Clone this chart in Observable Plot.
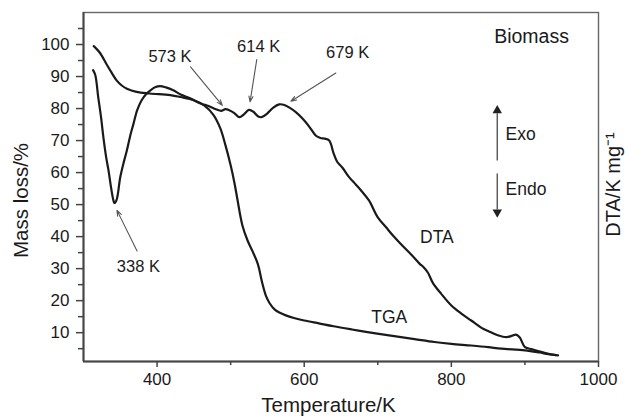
<!DOCTYPE html>
<html>
<head>
<meta charset="utf-8">
<script src="https://cdn.jsdelivr.net/npm/d3@7"></script>
<script src="https://cdn.jsdelivr.net/npm/@observablehq/plot@0.6"></script>
<style>
  html, body { margin: 0; padding: 0; background: #fff; }
</style>
</head>
<body>
<div id="chart"></div>
<script>
// TGA curve (mass loss, %)
const tgaT = [314, 322, 331, 338, 345, 352, 359, 372, 390, 418, 432, 450, 464, 477, 486, 493, 500, 505, 509, 516, 523, 530, 537, 543, 548, 553, 560, 567, 575, 586, 600, 620, 640, 665, 686, 720, 750, 777, 800, 827, 850, 868, 900, 920, 932, 945];
const tgaV = [99.5, 97.5, 94, 91.3, 88.8, 87.2, 86.2, 85.2, 84.7, 84.2, 83.6, 82.6, 81, 77.9, 73.8, 68.5, 62.3, 57, 51.9, 43.5, 38.8, 35.3, 31.4, 25.5, 21.5, 19.2, 17.2, 16.2, 15.4, 14.6, 13.8, 12.9, 12.0, 11.0, 10.2, 9.0, 8.0, 7.1, 6.5, 6.0, 5.5, 5.0, 4.5, 3.8, 3.3, 2.9];

// DTA curve
const dtaT = [313, 316, 320, 324, 327, 331, 334, 337, 340, 342, 345, 350, 355, 359, 364, 368, 373, 379, 385, 391, 398, 404, 412, 422, 432, 445, 459, 470, 480, 487, 493, 498, 505, 512, 518, 525, 531, 537, 542, 550, 558, 566, 572, 580, 589, 598, 607, 616, 622, 628, 634, 640, 645, 652, 661, 670, 677, 688, 700, 711, 720, 730, 745, 757, 762, 768, 775, 786, 800, 814, 827, 841, 850, 863, 875, 882, 888, 893, 900, 910, 922, 936, 942];
const dtaV = [92, 90.5, 83.6, 77, 71.1, 64.5, 60.7, 56, 52, 50.5, 51.5, 58.6, 63.5, 67, 72, 75.3, 79.5, 82.6, 84.5, 85.7, 86.7, 87, 86.6, 85.7, 84.4, 83.2, 81.6, 80.8, 79.8, 79.3, 79.8, 79.5, 78.6, 77.3, 78.2, 79.6, 79, 77.6, 77.3, 78.5, 80.3, 81.3, 81.2, 80.3, 78.8, 76.8, 74.3, 71.5, 70.8, 70.6, 70, 66, 63.3, 61.5, 58.6, 56.3, 54.5, 51.3, 46, 43, 40.5, 38, 34.5, 31.5, 30.5, 28.8, 25.5, 22.2, 18.5, 15.9, 13.8, 11.5, 10.5, 9.2, 8.6, 9.0, 9.4, 8.5, 5.5, 4.8, 4.0, 3.2, 3.0];

// Axis ticks
const xMajorTicks = [400, 600, 800, 1000];
const xMinorTicks = [500, 700, 900];
const yMajorTicks = [10, 20, 30, 40, 50, 60, 70, 80, 90, 100];
const yMinorTicks = [5, 15, 25, 35, 45, 55, 65, 75, 85, 95, 105];

// Peak annotations: label, text position, arrow start, arrow tip (data units)
const peakLabels = ["573 K", "614 K", "679 K", "338 K"];
const peakTextT  = [417.5, 538, 659, 374.6];
const peakTextV  = [96.3, 99.3, 97.3, 30.7];
const arrowFromT = [445.5, 535.5, 643, 372.8];
const arrowFromV = [93, 95.3, 91.1, 35.5];
const arrowToT   = [488.7, 526.4, 582, 345.5];
const arrowToV   = [81, 82.1, 82.3, 48.2];

// Other labels
const curveLabels = ["DTA", "TGA"];
const curveLabelT = [780.3, 715.5];
const curveLabelV = [39.8, 14.8];

const tga = tgaT.map((t, i) => ({T: t, v: tgaV[i]}));
const dta = dtaT.map((t, i) => ({T: t, v: dtaV[i]}));
const peaks = peakLabels.map((l, i) => ({
  label: l, tx: peakTextT[i], ty: peakTextV[i],
  x1: arrowFromT[i], y1: arrowFromV[i], x2: arrowToT[i], y2: arrowToV[i]
}));
const curves = curveLabels.map((l, i) => ({label: l, T: curveLabelT[i], v: curveLabelV[i]}));

const font = "'Liberation Sans', Arial, Helvetica, sans-serif";
const ink = "#1a1a1a";

const chart = Plot.plot({
  width: 625,
  height: 417,
  marginLeft: 83,
  marginRight: 27,
  marginTop: 12,
  marginBottom: 56,
  x: {domain: [300, 1000]},
  y: {domain: [1, 110]},
  style: {fontFamily: font, fontSize: "17px", color: ink, background: "#fff", overflow: "visible"},
  marks: [
    Plot.frame({stroke: "#666", strokeWidth: 1.4}),
    // axes
    Plot.axisX(xMajorTicks, {tickSize: 6, tickPadding: 5, fontSize: 17, tickFormat: d => String(d), stroke: "#444", strokeWidth: 1.5, label: null}),
    Plot.axisX(xMinorTicks, {tickSize: 4, tickFormat: () => "", stroke: "#444", strokeWidth: 1.5, label: null}),
    Plot.axisY(yMajorTicks, {tickSize: 7, tickPadding: 7, fontSize: 17, tickFormat: d => String(d), stroke: "#444", strokeWidth: 1.5, label: null}),
    Plot.axisY(yMinorTicks, {tickSize: 5, tickFormat: () => "", stroke: "#444", strokeWidth: 1.5, label: null}),
    Plot.ruleX([300], {stroke: "#444", strokeWidth: 2}),
    Plot.ruleY([1], {stroke: "#444", strokeWidth: 2}),
    // curves
    Plot.line(tga, {x: "T", y: "v", stroke: ink, strokeWidth: 2.2, curve: "catmull-rom"}),
    Plot.line(dta, {x: "T", y: "v", stroke: ink, strokeWidth: 2.2, curve: "catmull-rom"}),
    // peak annotations
    Plot.arrow(peaks, {x1: "x1", y1: "y1", x2: "x2", y2: "y2", stroke: "#555", strokeWidth: 1.1, headLength: 8, headAngle: 40}),
    Plot.text(peaks, {x: "tx", y: "ty", text: "label", fontSize: 16.5, fill: ink}),
    // curve labels
    Plot.text(curves, {x: "T", y: "v", text: "label", fontSize: 17.5, fill: ink}),
    // Exo / Endo indicators
    Plot.link([{T: 862.4, a: 63.8, b: 78.5}], {x1: "T", x2: "T", y1: "a", y2: "b", stroke: "#555", strokeWidth: 1.4}),
    Plot.dot([{T: 862.4, v: 79.4}], {x: "T", y: "v", symbol: "triangle", r: 3.5, fill: "#222", stroke: "none"}),
    Plot.link([{T: 862.4, a: 59.7, b: 48.5}], {x1: "T", x2: "T", y1: "a", y2: "b", stroke: "#555", strokeWidth: 1.4}),
    Plot.dot([{T: 862.4, v: 47.6}], {x: "T", y: "v", symbol: "triangle", rotate: 180, r: 3.5, fill: "#222", stroke: "none"}),
    Plot.text(["Exo"], {x: 873.7, y: 72, text: d => d, textAnchor: "start", fontSize: 17.5, fill: ink}),
    Plot.text(["Endo"], {x: 873.7, y: 54.6, text: d => d, textAnchor: "start", fontSize: 17.5, fill: ink}),
    Plot.text(["Biomass"], {x: 909, y: 102.4, text: d => d, fontSize: 19.5, fill: ink}),
    // axis titles
    Plot.text(["Temperature/K"], {x: 633, y: -12.7, text: d => d, fontSize: 20.5, fill: ink}),
    Plot.text(["Mass loss/%"], {x: 215, y: 51.3, text: d => d, rotate: -90, fontSize: 20.5, fill: ink}),
    Plot.text(["DTA/K mg\u207B\u00B9"], {x: 1020.5, y: 56.3, text: d => d, rotate: -90, fontSize: 20, fill: ink})
  ]
});

document.getElementById("chart").appendChild(chart);
</script>
</body>
</html>
